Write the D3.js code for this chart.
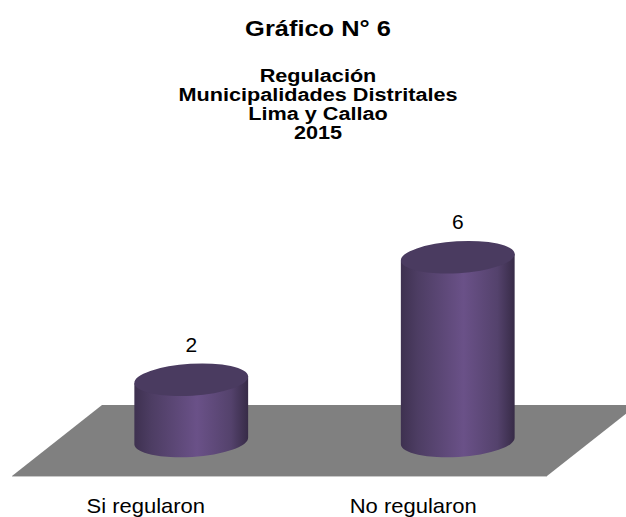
<!DOCTYPE html>
<html>
<head>
<meta charset="utf-8">
<script src="https://cdn.jsdelivr.net/npm/d3@7"></script>
<style>
  body { margin: 0; background: #fff; }
  text { font-family: "Liberation Sans", Arial, sans-serif; }
</style>
</head>
<body>
<div id="chart"></div>
<script>
// data
const categories = ["Si regularon", "No regularon"];
const values = [2, 6];
const titleLines = ["Gráfico N° 6"];
const subtitleLines = ["Regulación", "Municipalidades Distritales", "Lima y Callao", "2015"];

const width = 626, height = 517;

const svg = d3.select("#chart")
  .append("svg")
    .attr("width", width)
    .attr("height", height);

// gradient for cylinder body
const defs = svg.append("defs");
const grad = defs.append("linearGradient")
    .attr("id", "cyl")
    .attr("x1", "0%").attr("x2", "100%")
    .attr("y1", "0%").attr("y2", "0%");
grad.append("stop").attr("offset", "0%").attr("stop-color", "#3e3150");
grad.append("stop").attr("offset", "15%").attr("stop-color", "#4d3d63");
grad.append("stop").attr("offset", "55%").attr("stop-color", "#6a5188");
grad.append("stop").attr("offset", "85%").attr("stop-color", "#54426c");
grad.append("stop").attr("offset", "100%").attr("stop-color", "#372b47");

// old GDI text renders a bit wider than Arial, so stretch horizontally
const wide = (x, y, sx) => `translate(${x},${y}) scale(${sx},1)`;

// titles
svg.append("text")
    .attr("transform", wide(318, 36, 1.13))
    .attr("text-anchor", "middle")
    .attr("font-weight", "bold")
    .attr("font-size", 22.5)
    .text(titleLines[0]);

svg.selectAll(".sub")
  .data(subtitleLines)
  .enter().append("text")
    .attr("class", "sub")
    .attr("transform", (d, i) => wide(318, 82 + i * 19, 1.14))
    .attr("text-anchor", "middle")
    .attr("font-weight", "bold")
    .attr("font-size", 19)
    .text(d => d);

// scales
const floorTop = 405, floorBottom = 476, skew = 90;
const xFront = d3.scaleBand().domain(categories).range([12, 547]);
const xBack = d3.scaleBand().domain(categories).range([58, 591]);
const y = d3.scaleLinear().domain([0, 8]).range([441, 196]);

// floor
const f0 = xFront.range()[0], f1 = xFront.range()[1];
svg.append("path")
    .attr("d", `M${f0 + skew},${floorTop} L${f1 + skew},${floorTop} L${f1},${floorBottom} L${f0},${floorBottom} Z`)
    .attr("fill", "#808080");
svg.append("line")
    .attr("x1", f0).attr("x2", f1)
    .attr("y1", floorBottom + 0.5).attr("y2", floorBottom + 0.5)
    .attr("stroke", "#c8c8c8");

// cylinders
const rx = 57, ry = 16, tilt = -3.5;
const ang = tilt * Math.PI / 180;
const dx = rx * Math.cos(ang), dy = rx * Math.sin(ang);

const cyl = svg.selectAll(".cyl")
  .data(categories.map((c, i) => ({cat: c, value: values[i]})))
  .enter().append("g")
    .attr("class", "cyl");

cyl.append("path")
    .attr("fill", "url(#cyl)")
    .attr("d", d => {
      const cx = xBack(d.cat) + xBack.bandwidth() / 2;
      const yb = y(0), yt = y(d.value);
      return `M${cx - dx},${yt - dy} L${cx - dx},${yb - dy} ` +
             `A${rx},${ry} ${tilt} 0 0 ${cx + dx},${yb + dy} ` +
             `L${cx + dx},${yt + dy} Z`;
    });

cyl.append("ellipse")
    .attr("cx", d => xBack(d.cat) + xBack.bandwidth() / 2)
    .attr("cy", d => y(d.value))
    .attr("rx", rx).attr("ry", ry)
    .attr("transform", d => `rotate(${tilt},${xBack(d.cat) + xBack.bandwidth() / 2},${y(d.value)})`)
    .attr("fill", "#4a3b60");

// value labels
cyl.append("text")
    .attr("transform", d => wide(xBack(d.cat) + xBack.bandwidth() / 2, y(d.value) - ry - 12, 1.05))
    .attr("text-anchor", "middle")
    .attr("font-size", 20)
    .text(d => d.value);

// category labels
svg.selectAll(".cat")
  .data(categories)
  .enter().append("text")
    .attr("class", "cat")
    .attr("transform", d => wide(xFront(d) + xFront.bandwidth() / 2, 513, 1.1))
    .attr("text-anchor", "middle")
    .attr("font-size", 20)
    .text(d => d);
</script>
</body>
</html>
